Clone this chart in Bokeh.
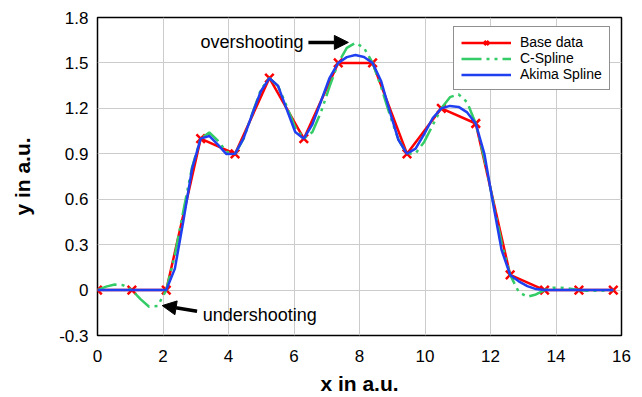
from bokeh.plotting import figure
from bokeh.models import FixedTicker, Legend, LegendItem, Arrow, NormalHead, Label
from bokeh.embed import file_html
from bokeh.resources import INLINE

# ---- data ----
base_x = [0, 1.05, 2.1, 3.15, 4.2, 5.25, 6.3, 7.35, 8.4, 9.45, 10.5, 11.55, 12.6, 13.65, 14.7, 15.75]
base_y = [0, 0, 0, 1.0, 0.9, 1.4, 1.0, 1.5, 1.5, 0.9, 1.2, 1.1, 0.1, 0, 0, 0]

curve_x = [0, 0.2625, 0.525, 0.7875, 1.05, 1.3125, 1.575, 1.8375, 2.1, 2.3625, 2.625, 2.8875,
           3.15, 3.4125, 3.675, 3.9375, 4.2, 4.4625, 4.725, 4.9875, 5.25, 5.5125, 5.775, 6.0375,
           6.3, 6.5625, 6.825, 7.0875, 7.35, 7.6125, 7.875, 8.1375, 8.4, 8.6625, 8.925, 9.1875,
           9.45, 9.7125, 9.975, 10.2375, 10.5, 10.7625, 11.025, 11.2875, 11.55, 11.8125, 12.075,
           12.3375, 12.6, 12.8625, 13.125, 13.3875, 13.65, 13.9125, 14.175, 14.4375, 14.7,
           14.9625, 15.225, 15.4875, 15.75]

c_spline_y = [0, 0.0229, 0.0366, 0.0320, 0,
              -0.0595, -0.1099, -0.1053, 0,
              0.2308, 0.5278, 0.8110, 1.0,
              1.0411, 0.9861, 0.9130, 0.9,
              1.0001, 1.1654, 1.3231, 1.4,
              1.3476, 1.2147, 1.0745, 1.0,
              1.0438, 1.1757, 1.3447, 1.5,
              1.5990, 1.6325, 1.5998, 1.5,
              1.3399, 1.1567, 0.9951, 0.9,
              0.9024, 0.9783, 1.0900, 1.2,
              1.2741, 1.2928, 1.2401, 1.1,
              0.8683, 0.5880, 0.3136, 0.1,
              -0.0130, -0.0446, -0.0290, 0,
              0.0149, 0.0156, 0.0085, 0,
              -0.0045, -0.0052, -0.0033, 0]

akima_y = [0, 0, 0, 0, 0,
           0, 0, 0, 0,
           0.1416, 0.4609, 0.7998, 1.0,
           1.0175, 0.9603, 0.8979, 0.9,
           1.0039, 1.1613, 1.3130, 1.4,
           1.3488, 1.1952, 1.0437, 1.0,
           1.0939, 1.2473, 1.4021, 1.5,
           1.5382, 1.5518, 1.5395, 1.5,
           1.3789, 1.1807, 0.9922, 0.9,
           0.9338, 1.0300, 1.1363, 1.2,
           1.2161, 1.2096, 1.1733, 1.1,
           0.8997, 0.5766, 0.2653, 0.1,
           0.0577, 0.0263, 0.0067, 0,
           0, 0, 0, 0,
           0, 0, 0, 0]

x_ticks = [0, 2, 4, 6, 8, 10, 12, 14, 16]
y_ticks = [-0.3, 0, 0.3, 0.6, 0.9, 1.2, 1.5, 1.8]
y_tick_labels = ["-0.3", "0", "0.3", "0.6", "0.9", "1.2", "1.5", "1.8"]

FONT = "Liberation Sans"

p = figure(width=642, height=397, x_range=(0, 16), y_range=(-0.3, 1.8),
           output_backend="svg", toolbar_location=None,
           min_border_left=97, min_border_right=21, min_border_top=17, min_border_bottom=61)
p.background_fill_color = "white"
p.border_fill_color = "white"

p.xaxis.ticker = FixedTicker(ticks=x_ticks)
p.yaxis.ticker = FixedTicker(ticks=y_ticks)
p.yaxis.major_label_overrides = {v: s for v, s in zip(y_ticks, y_tick_labels)}

p.axis.axis_line_color = None
p.axis.major_tick_line_color = None
p.axis.minor_tick_line_color = None
p.axis.major_tick_in = 0
p.axis.major_tick_out = 0
p.axis.major_label_text_font = FONT
p.axis.major_label_text_font_size = "17px"
p.axis.major_label_text_color = "black"
p.axis.axis_label_text_font = FONT
p.axis.axis_label_text_font_size = "21px"
p.axis.axis_label_text_font_style = "bold"
p.axis.axis_label_text_color = "black"
p.xaxis.axis_label = "x in a.u."
p.yaxis.axis_label = "y in a.u."
p.xaxis.major_label_standoff = 14
p.xaxis.axis_label_standoff = 7
p.yaxis.major_label_standoff = 9
p.yaxis.axis_label_standoff = 22

p.grid.grid_line_color = "#cccccc"
p.grid.grid_line_width = 1
p.outline_line_color = "black"
p.outline_line_width = 1.5
p.outline_line_alpha = 1

r_line = p.line(base_x, base_y, line_color="#ff0000", line_width=2.5)
r_mark = p.scatter(base_x, base_y, marker="x", size=12, line_color="#ff0000", line_width=2.5)
g_line = p.line(curve_x, c_spline_y, line_color="#33cc66", line_width=2.5, line_dash="20 5 3 5 3 5")
b_line = p.line(curve_x, akima_y, line_color="#1f3ff0", line_width=2.5)

legend = Legend(items=[LegendItem(label="Base data", renderers=[r_line, r_mark]),
                       LegendItem(label="C-Spline", renderers=[g_line]),
                       LegendItem(label="Akima Spline", renderers=[b_line])],
                location=(356, 245))
legend.label_text_font = FONT
legend.label_text_font_size = "14px"
legend.label_text_color = "black"
legend.glyph_width = 50
legend.glyph_height = 15
legend.label_height = 15
legend.spacing = 0
legend.padding = 7
legend.margin = 0
legend.label_standoff = 9
legend.border_line_color = "#222222"
legend.border_line_width = 1.5
legend.background_fill_alpha = 1
p.add_layout(legend)

p.add_layout(Label(x=6.29, y=1.6355, text="overshooting", text_align="right",
                   text_baseline="middle", text_font=FONT, text_font_size="18px",
                   text_color="black"))
p.add_layout(Label(x=3.21, y=-0.162, text="undershooting", text_align="left",
                   text_baseline="middle", text_font=FONT, text_font_size="18px",
                   text_color="black"))
p.add_layout(Arrow(end=NormalHead(size=14, fill_color="black", line_color="black"),
                   x_start=6.44, y_start=1.6355, x_end=7.66, y_end=1.6355,
                   line_width=3.5, line_color="black"))
p.add_layout(Arrow(end=NormalHead(size=14, fill_color="black", line_color="black"),
                   x_start=3.04, y_start=-0.14, x_end=1.976, y_end=-0.1025,
                   line_width=3.5, line_color="black"))

open("out.html", "w").write(file_html(p, INLINE))
